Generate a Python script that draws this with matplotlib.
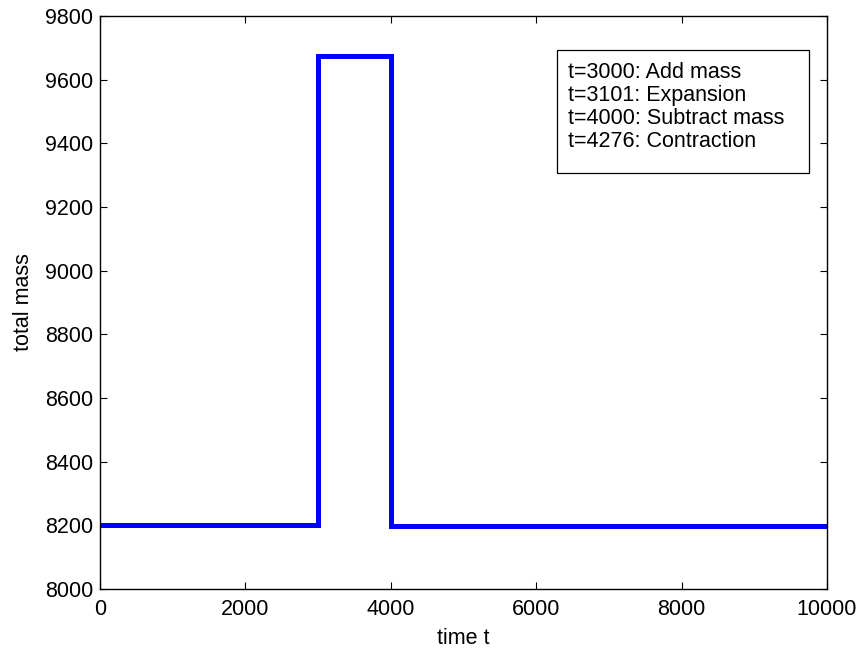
import numpy as np
import matplotlib
matplotlib.use("Agg")
import matplotlib.pyplot as plt
from matplotlib.patches import Rectangle

plt.rcParams['font.family'] = ['Liberation Sans', 'DejaVu Sans']

# mass history (step changes)
time = [0, 3000, 3000, 4000, 4000, 10000]
mass = [8200, 8200, 9675, 9675, 8198, 8198]

events = ["t=3000: Add mass",
          "t=3101: Expansion",
          "t=4000: Subtract mass",
          "t=4276: Contraction"]

xticks = np.arange(0, 10001, 2000)
yticks = np.arange(8000, 9801, 200)

fig = plt.figure(figsize=(8.62, 6.51), dpi=100)
ax = fig.add_axes([0.116, 0.0952, 0.8434, 0.8802])

ax.plot(time, mass, color='blue', linewidth=3.6, solid_joinstyle='miter')

ax.set_xlim(0, 10000)
ax.set_ylim(8000, 9800)
ax.set_xticks(xticks)
ax.set_yticks(yticks)
ax.tick_params(direction='in', length=5, width=0.8, labelsize=15.5,
               top=True, right=True)
ax.tick_params(axis='x', pad=7)
ax.tick_params(axis='y', pad=5)
for s in ax.spines.values():
    s.set_linewidth(1.0)
ax.set_xlabel('time t', fontsize=15.5, labelpad=6)
ax.set_ylabel('total mass', fontsize=15.5, labelpad=8)

# legend-like box with event notes
ax.add_patch(Rectangle((0.6286, 0.726), 0.3466, 0.2147, transform=ax.transAxes,
                       facecolor='white', edgecolor='black', linewidth=0.9, zorder=5))
for i, txt in enumerate(events):
    ax.text(0.6437, 0.902 - i * 0.0401, txt, transform=ax.transAxes,
            fontsize=15.5, va='center', ha='left', zorder=6)

fig.savefig('out.png', dpi=100)
